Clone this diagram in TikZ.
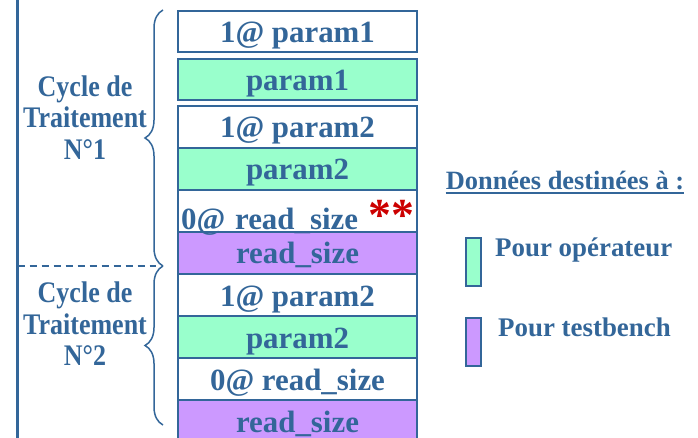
\documentclass[tikz,border=0pt]{standalone}
\usepackage{fontspec}
\setmainfont{Liberation Serif}
\newfontfamily\narrowserif[FakeStretch=0.87]{Liberation Serif}
\usetikzlibrary{decorations.pathreplacing}
\definecolor{ink}{HTML}{336699}
\definecolor{opfill}{HTML}{99FFCC}
\definecolor{tbfill}{HTML}{CC99FF}
\definecolor{mark}{HTML}{CC0000}
\begin{document}
\begin{tikzpicture}[x=1bp,y=-1bp,
  cell/.style={draw=ink, line width=2bp, minimum width=239bp, minimum height=42bp,
    inner sep=0pt, text height=22bp, text depth=0pt, text=ink,
    font=\fontsize{31}{31}\selectfont\bfseries},
  topcell/.style={cell, minimum height=41bp, text height=23bp},
  cyclelabel/.style={align=center, inner sep=0pt, text=ink,
    font=\narrowserif\bfseries\fontsize{30}{31.5}\selectfont},
  curly/.style={draw=ink, line width=1.5bp, decorate,
    decoration={brace, amplitude=18bp, aspect=0.5}},
  legendbox/.style={draw=ink, line width=2bp, minimum width=15bp, minimum height=48bp, inner sep=0pt},
  legendtext/.style={inner sep=0pt, text=ink, anchor=base west,
    font=\fontsize{27}{27}\selectfont\bfseries}]
\useasboundingbox (0,0) rectangle (698,438);

% left margin rule and separator between the two cycles
\coordinate (railtop) at (17.5,0);
\coordinate (railbot) at (17.5,438);
\draw[ink, line width=3bp] (railtop) -- (railbot);
\coordinate (sepL) at (17.5,266);
\coordinate (sepR) at (156,266);
\draw[ink, line width=1.5bp, dash pattern=on 7bp off 5bp] (sepL) -- (sepR);

% cycle labels
\node[cyclelabel] (cyc1) at (85,117.5) {Cycle de\\Traitement\\N°1};
\node[cyclelabel] (cyc2) at (85,324) {Cycle de\\Traitement\\N°2};

% braces grouping each cycle
\coordinate (b1top) at (163,10);
\coordinate (b1bot) at (163,266);
\coordinate (b2top) at (163,266);
\coordinate (b2bot) at (163,425);
\draw[curly] (b1bot) -- (b1top);
\draw[curly] (b2bot) -- (b2top);

% data words sent over the bus
\node[topcell, fill=white]  (w1) at (297.5,31.5) {1@ param1};
\node[topcell, fill=opfill] (w2) at (297.5,79.5) {param1};
\node[cell, fill=white]  (w3)  at (297.5,127) {1@ param2};
\node[cell, fill=opfill] (w4)  at (297.5,169) {param2};
\node[cell, fill=white]  (w5)  at (297.5,211) {};
\node[cell, fill=tbfill] (w6)  at (297.5,253) {read\_size};
\node[cell, fill=white]  (w7)  at (297.5,295) {1@ param2};
\node[cell, fill=opfill] (w8)  at (297.5,337) {param2};
\node[cell, fill=white]  (w9)  at (297.5,379) {0@ read\_size};
\node[cell, fill=tbfill] (w10) at (297.5,421) {read\_size};
\node[inner sep=0pt, anchor=base west, text=ink, font=\fontsize{31}{31}\selectfont\bfseries]
  (w5text) at ([xshift=4bp, yshift=3bp]w5.south west)
  {0@\hspace{2bp} read\_size\hspace{3bp} \raisebox{-1bp}{\color{mark}\fontsize{46}{46}\selectfont **}};

% legend
\node[inner sep=0pt, anchor=base, text=ink, font=\fontsize{26.5}{26.5}\selectfont\bfseries]
  (title) at (565,190) {Données destinées à :};
\draw[ink, line width=2bp] ([yshift=-3bp]title.base west) -- ([yshift=-3bp]title.base east);
\node[legendbox, fill=opfill] (keyop) at (473.5,262) {};
\node[legendbox, fill=tbfill] (keytb) at (473.5,342) {};
\node[legendtext] (txtop) at (495,257) {Pour opérateur};
\node[legendtext] (txttb) at (498,337) {Pour testbench};
\end{tikzpicture}
\end{document}
